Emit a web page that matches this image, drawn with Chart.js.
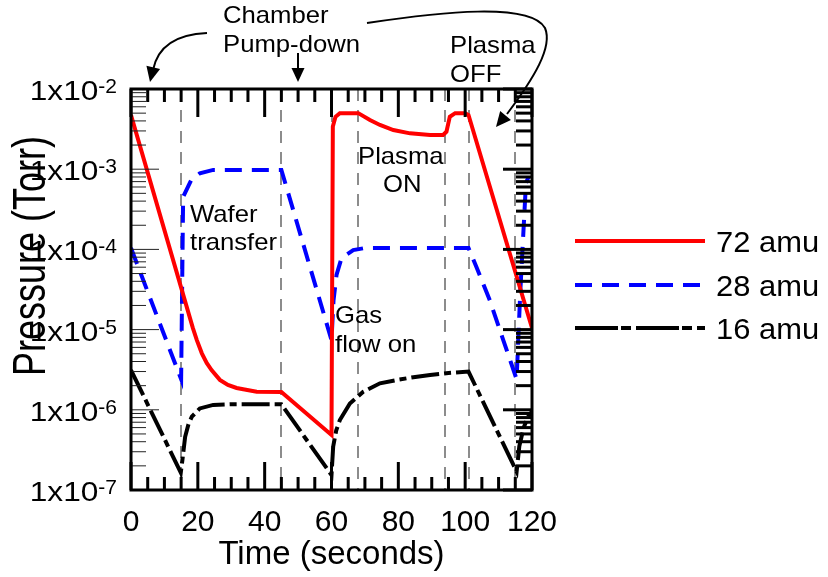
<!DOCTYPE html>
<html>
<head>
<meta charset="utf-8">
<script src="https://cdn.jsdelivr.net/npm/chart.js@4"></script>
<style>
    html, body { margin: 0; padding: 0; background: #fff; }
    #wrap { width: 828px; height: 577px; }
</style>
</head>
<body>
<div id="wrap"><canvas id="pressureChart" width="828" height="577"></canvas></div>
<script>
const FONT = "'Liberation Sans', Arial, sans-serif";

// 72 amu (red, solid)
const time72 = [0, 18.5, 19.7, 21.2, 22.65, 24.1, 26.6, 29, 31.6, 37.6, 45, 60, 60.4, 61.2, 62.5, 68, 71.5, 74.5, 78.5, 83.5, 89.5, 93.4, 94.4, 95.4, 97, 100, 101, 120];
const p72 = [4.74e-3, 1.05e-5, 7.4e-6, 5.06e-6, 3.84e-6, 3.13e-6, 2.36e-6, 2.04e-6, 1.87e-6, 1.68e-6, 1.67e-6, 4.85e-7, 3.4e-3, 4.5e-3, 5.0e-3, 5.0e-3, 4.1e-3, 3.56e-3, 3.08e-3, 2.8e-3, 2.67e-3, 2.67e-3, 2.94e-3, 4.5e-3, 5.0e-3, 5.0e-3, 4.74e-3, 1.05e-5];

// 28 amu (blue, dashed)
const time28 = [0, 15, 15.6, 18, 20.6, 24.6, 45, 60, 60.6, 61.5, 63, 66.5, 70, 101, 103.4, 107.4, 111.4, 115.4, 116.5, 118.2, 119];
const p28 = [1.04e-4, 2.4e-6, 4.5e-4, 7.3e-4, 8.9e-4, 9.8e-4, 9.8e-4, 7.4e-6, 2.3e-5, 4.8e-5, 7.8e-5, 9.8e-5, 1.04e-4, 1.04e-4, 6.0e-5, 2.3e-5, 7.4e-6, 2.4e-6, 3e-5, 6.8e-4, 8e-4];

// 16 amu (black, dash-dot)
const time16 = [0, 14.9, 15.4, 16.2, 17.2, 18.2, 20.6, 24.6, 29.6, 45, 60, 60.5, 61.4, 62.5, 65.5, 69.5, 74.5, 79.5, 84.5, 89.5, 95, 101, 115.4, 116.2, 117.5, 119, 120];
const p16 = [3.13e-6, 1.65e-7, 2.4e-7, 4.6e-7, 6.6e-7, 8.2e-7, 1.04e-6, 1.15e-6, 1.17e-6, 1.17e-6, 1.54e-7, 3.47e-7, 5.5e-7, 7.46e-7, 1.2e-6, 1.68e-6, 2.14e-6, 2.35e-6, 2.55e-6, 2.72e-6, 2.88e-6, 3.0e-6, 1.7e-7, 3.5e-7, 6e-7, 8.5e-7, 9.5e-7];

const seriesLabels = ['72 amu', '28 amu', '16 amu'];
const eventTimes = [15, 45, 60, 68, 94, 101, 115];
const decadeExponents = [-2, -3, -4, -5, -6, -7];
const minorTimeStep = 5;

function toPoints(xs, ys) {
    return xs.map((t, i) => ({ x: t, y: ys[i] }));
}

function arrowHead(ctx, tipX, tipY, fromX, fromY, len, half) {
    const ang = Math.atan2(tipY - fromY, tipX - fromX);
    const bx = tipX - len * Math.cos(ang), by = tipY - len * Math.sin(ang);
    ctx.beginPath();
    ctx.moveTo(tipX, tipY);
    ctx.lineTo(bx + half * Math.sin(ang), by - half * Math.cos(ang));
    ctx.lineTo(bx - half * Math.sin(ang), by + half * Math.cos(ang));
    ctx.closePath();
    ctx.fill();
}

// text slightly wider than the font, like the source figure
function wideText(ctx, s, x, y, size, sx, align) {
    ctx.save();
    ctx.translate(x, y);
    ctx.scale(sx, 1);
    ctx.font = `${size}px ${FONT}`;
    ctx.textAlign = align;
    ctx.textBaseline = 'alphabetic';
    ctx.fillText(s, 0, 0);
    ctx.restore();
}

// grey dashed event markers, behind the curves
const eventLines = {
    id: 'eventLines',
    beforeDatasetsDraw(chart) {
        const { ctx, chartArea: a, scales: { x } } = chart;
        ctx.save();
        ctx.strokeStyle = '#8c8c8c';
        ctx.lineWidth = 2;
        ctx.setLineDash([12, 9]);
        eventTimes.forEach(t => {
            const px = Math.round(x.getPixelForValue(t));
            ctx.beginPath();
            ctx.moveTo(px, a.top);
            ctx.lineTo(px, a.bottom);
            ctx.stroke();
        });
        ctx.restore();
    }
};

// frame, inward ticks, y labels, legend and annotations
const decorations = {
    id: 'decorations',
    afterDatasetsDraw(chart) {
        const { ctx, chartArea: a, scales: { x, y } } = chart;
        ctx.save();
        ctx.setLineDash([]);
        ctx.strokeStyle = '#000';
        ctx.fillStyle = '#000';

        // time ticks top and bottom
        ctx.lineWidth = 3;
        for (let t = 0; t <= 120; t += minorTimeStep) {
            const px = x.getPixelForValue(t);
            const len = t % 20 === 0 ? 28 : 13;
            ctx.beginPath();
            ctx.moveTo(px, a.top); ctx.lineTo(px, a.top + len);
            ctx.moveTo(px, a.bottom); ctx.lineTo(px, a.bottom - len);
            ctx.stroke();
        }

        // log ticks: thin on the left, heavy on the right
        decadeExponents.forEach(e => {
            for (let m = 1; m <= 9; m++) {
                const v = m * Math.pow(10, e - 1);
                if (v < 1e-7 * 0.999) continue;
                const py = y.getPixelForValue(v);
                const major = m === 1;
                ctx.lineWidth = 1;
                ctx.strokeStyle = '#222';
                ctx.beginPath();
                ctx.moveTo(a.left, py); ctx.lineTo(a.left + (major ? 28 : 15), py);
                ctx.stroke();
                ctx.lineWidth = 3;
                ctx.strokeStyle = '#000';
                ctx.beginPath();
                ctx.moveTo(a.right, py); ctx.lineTo(a.right - (major ? 29 : 16), py);
                ctx.stroke();
            }
        });
        ctx.lineWidth = 3;
        ctx.beginPath();
        ctx.moveTo(a.right, y.getPixelForValue(1e-2)); ctx.lineTo(a.right - 29, y.getPixelForValue(1e-2));
        ctx.stroke();

        ctx.strokeRect(a.left, a.top, a.right - a.left, a.bottom - a.top);

        // y tick labels 1x10^n
        decadeExponents.forEach(e => {
            const py = y.getPixelForValue(Math.pow(10, e));
            const sup = String(e);
            ctx.font = `21px ${FONT}`;
            const supW = ctx.measureText(sup).width;
            wideText(ctx, sup, 117, py + 4, 21, 1, 'right');
            wideText(ctx, '1x10', 117 - supW, py + 11, 28, 1.13, 'right');
        });

        // y axis title, glyphs stretched across the axis
        ctx.save();
        ctx.translate(45, 256);
        ctx.scale(1.3, 1);
        ctx.rotate(-Math.PI / 2);
        ctx.font = `36px ${FONT}`;
        ctx.textAlign = 'center';
        ctx.textBaseline = 'alphabetic';
        ctx.fillText('Pressure (Torr)', 0, 0);
        ctx.restore();

        // legend
        const legendY = [241, 285, 328];
        chart.data.datasets.forEach((ds, i) => {
            ctx.strokeStyle = ds.borderColor;
            ctx.lineWidth = 4;
            ctx.setLineDash(i === 2 ? [43, 3, 10, 5] : (ds.borderDash || []));
            ctx.beginPath();
            ctx.moveTo(575, legendY[i]); ctx.lineTo(705, legendY[i]);
            ctx.stroke();
            ctx.setLineDash([]);
            ctx.fillStyle = '#000';
            wideText(ctx, ds.label, 716, legendY[i] + 11, 30, 1.03, 'left');
        });

        // annotations
        ctx.fillStyle = '#000';
        [['Chamber', 223, 23], ['Pump-down', 223, 52], ['Plasma', 450, 53], ['OFF', 450, 82],
         ['Wafer', 190, 222], ['transfer', 190, 250], ['Plasma', 358, 164], ['ON', 383, 192],
         ['Gas', 335, 323], ['flow on', 335, 352]].forEach(([s, tx, ty]) => wideText(ctx, s, tx, ty, 24, 1.07, 'left'));

        ctx.strokeStyle = '#000';
        ctx.lineWidth = 2;
        // curved arrow to t=0
        ctx.beginPath();
        ctx.moveTo(207, 33);
        ctx.quadraticCurveTo(160, 35, 153, 70);
        ctx.stroke();
        arrowHead(ctx, 150, 82, 154, 64, 15, 7);
        // straight arrow down
        ctx.beginPath();
        ctx.moveTo(298, 53); ctx.lineTo(298, 70);
        ctx.stroke();
        arrowHead(ctx, 298, 82, 298, 60, 14, 6.5);
        // long curved arrow to plasma off decay
        ctx.beginPath();
        ctx.moveTo(367, 23);
        ctx.bezierCurveTo(440, 12, 530, 2, 545, 28);
        ctx.bezierCurveTo(553, 47, 534, 78, 507, 114);
        ctx.stroke();
        arrowHead(ctx, 496, 127, 520, 98, 15, 7);

        ctx.restore();
    }
};

const ctx = document.getElementById('pressureChart').getContext('2d');
new Chart(ctx, {
    type: 'line',
    data: {
        datasets: [{
            label: seriesLabels[0],
            data: toPoints(time72, p72),
            borderColor: '#ff0000',
            borderWidth: 4,
            pointRadius: 0,
            tension: 0
        }, {
            label: seriesLabels[1],
            data: toPoints(time28, p28),
            borderColor: '#0000ff',
            borderWidth: 4,
            borderDash: [17, 10],
            pointRadius: 0,
            tension: 0
        }, {
            label: seriesLabels[2],
            data: toPoints(time16, p16),
            borderColor: '#000000',
            borderWidth: 4,
            borderDash: [28, 5, 7, 5],
            pointRadius: 0,
            tension: 0
        }]
    },
    options: {
        responsive: false,
        animation: false,
        devicePixelRatio: 1,
        layout: { padding: { left: 0, top: 89, right: 296, bottom: 0 } },
        plugins: { legend: { display: false }, tooltip: { enabled: false } },
        scales: {
            x: {
                type: 'linear',
                min: 0,
                max: 120,
                grid: { display: false, drawTicks: false },
                border: { display: false },
                ticks: {
                    stepSize: 20,
                    color: '#000',
                    font: { family: FONT, size: 30 },
                    padding: 15,
                    maxRotation: 0,
                    autoSkip: false
                },
                title: {
                    display: true,
                    text: 'Time (seconds)',
                    color: '#000',
                    font: { family: FONT, size: 33 },
                    padding: { top: 0, bottom: 2 }
                },
                afterFit(scale) { scale.height = 87; }
            },
            y: {
                type: 'logarithmic',
                min: 1e-7,
                max: 1e-2,
                grid: { display: false, drawTicks: false },
                border: { display: false },
                ticks: { display: false },
                afterFit(scale) { scale.width = 131; }
            }
        }
    },
    plugins: [eventLines, decorations]
});
</script>
</body>
</html>
